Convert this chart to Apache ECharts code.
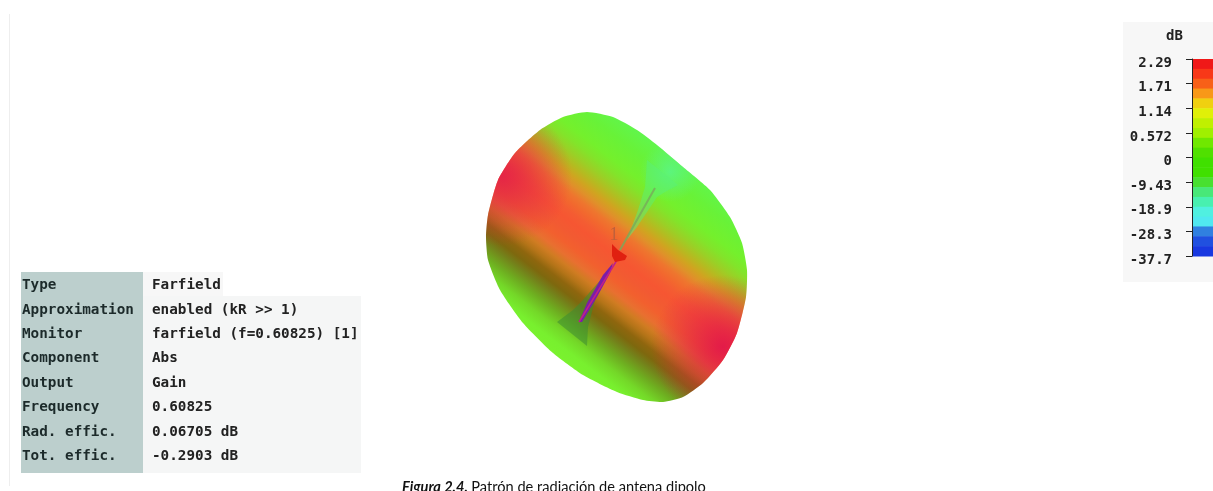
<!DOCTYPE html>
<html><head><meta charset="utf-8">
<style>html,body{margin:0;padding:0;background:#fff;overflow:hidden}#c{width:1213px;height:491px}</style>
<script src="https://cdn.jsdelivr.net/npm/echarts@6/dist/echarts.min.js"></script>
</head><body><div id="c"></div>
<script>
// ---- data ----
const surfaceOutline=[[587,112],[613,117],[637,130],[657,145],[683,167],[710,190],[730,217],[742,243],[747,270],[746,297],[737,333],[723,360],[703,383],[683,397],[663,402],[643,400],[617,392],[583,375],[553,353],[523,323],[500,290],[488,260],[486,237],[488,215],[498,180],[515,153],[540,130],[563,117]];
const funnelTop=[[647,160],[678,185],[665,192],[657,197],[637,227],[627,240],[638,210],[645,187]];
const funnelBottom=[[557,322],[587,346],[588,327],[595,300],[603,277],[583,300],[573,310]];
const dipoleArm=[[613,263],[603,275],[587,303],[579,322],[582,322],[597,297],[610,273]];
const dipoleLine=[[579,322],[617,260]];
const upperWire=[[620,250],[655,188]];
const excitation=[[612,244],[618,250],[627,256],[625,260],[615,262],[612,256]];
const bandOffsets=[0,0.12,0.2,0.24,0.28,0.32,0.35,0.38,0.41,0.44,0.47,0.5,0.54,0.58,0.62,0.65,0.68,0.71,0.74,0.77,0.82,0.87,0.92,1];
const scaleLabels=['2.29','1.71','1.14','0.572','0','-9.43','-18.9','-28.3','-37.7'];
const tableKeys=['Type','Approximation','Monitor','Component','Output','Frequency','Rad. effic.','Tot. effic.'];
const tableValues=['Farfield','enabled (kR >> 1)','farfield (f=0.60825) [1]','Abs','Gain','0.60825','0.06705 dB','-0.2903 dB'];
const caption='Patrón de radiación de antena dipolo';
// ---- styles ----
const bandColors=['#5cf858','#68f238','#74f02c','#82e42a','#9ad026','#b8b820','#d0a420','#e0902a','#ee762e','#f2682e','#f45c32','#f65632','#f25a32','#f2602e','#e87030','#d07c22','#b47418','#8f660e','#7e680e','#74801a','#6eae20','#74d828','#78f02e','#7cf42e'];
const scaleColors=['#f01818','#f83818','#f86018','#f89818','#f0d010','#e0f008','#c0f000','#a0f000','#70e800','#50e000','#40e000','#40e000','#48e030','#48e878','#48f0b0','#50f0e0','#50e8f0','#3080e0','#2050e0','#1838e0'];
const mono='"DejaVu Sans Mono",monospace';
const G=echarts.graphic;
const poly=(api,pts,style,smooth)=>({type:'polygon',shape:{points:pts.map(p=>api.coord(p)),smooth:smooth||0},style});
const chart=echarts.init(document.getElementById('c'),null,{renderer:'canvas'});
chart.setOption({
 animation:false,backgroundColor:'#fff',
 grid:[{left:0,top:0,width:1213,height:491,show:false},{left:1192,top:59,width:21,height:197,show:false}],
 xAxis:[{gridIndex:0,type:'value',min:0,max:1213,show:false},{gridIndex:1,type:'value',min:0,max:1,show:false}],
 yAxis:[{gridIndex:0,type:'value',min:0,max:491,inverse:true,show:false},
  {gridIndex:1,type:'value',min:0,max:8,interval:1,inverse:true,z:5,
   axisLine:{show:true,lineStyle:{color:'#222'}},axisTick:{show:true,length:6,lineStyle:{color:'#222'}},splitLine:{show:false},
   axisLabel:{margin:20,fontFamily:mono,fontWeight:'bold',fontSize:14,color:'#222',lineHeight:8,verticalAlign:'top',showMinLabel:true,showMaxLabel:true,formatter:(v)=>scaleLabels[v]}}],
 series:[
 {type:'custom',xAxisIndex:0,yAxisIndex:0,clip:false,data:[[0,0]],silent:true,z:1,
  renderItem(p,api){
   const a=api.coord([693,158]),b=api.coord([541,356]);
   const rect=(x,y,w,h,c)=>{const q=api.coord([x,y]);return{type:'rect',shape:{x:q[0],y:q[1],width:w,height:h},style:{fill:c}}};
   const kids=[rect(9,14,1,472,'#eeeeee'),rect(1123,22,90,260,'#f7f7f7'),rect(21,272,122,201,'#bccfcd'),rect(143,296,218,177,'#f5f6f6'),rect(143,272,80,24,'#f7f7f7')];
   const stops=bandOffsets.map((o,i)=>({offset:o,color:bandColors[i]}));
   kids.push(poly(api,surfaceOutline,{fill:new G.LinearGradient(a[0],a[1],b[0],b[1],stops,true)},0.2));
   const spot=(x,y,r,c)=>{const q=api.coord([x,y]);return new G.RadialGradient(q[0],q[1],r,[{offset:0,color:c},{offset:1,color:c.replace(/[\d.]+\)$/,'0)')}],true)};
   kids.push(poly(api,surfaceOutline,{fill:spot(502,176,70,'rgba(225,25,75,0.8)')},0.2));
   kids.push(poly(api,surfaceOutline,{fill:spot(723,347,72,'rgba(225,20,75,0.9)')},0.2));
   kids.push(poly(api,surfaceOutline,{fill:spot(670,172,30,'rgba(90,245,140,0.8)')},0.2));
   kids.push(poly(api,funnelTop,{fill:'rgba(90,240,120,0.5)'}));
   kids.push(poly(api,funnelBottom,{fill:'rgba(60,140,50,0.55)'}));
   kids.push(poly(api,dipoleArm,{fill:'#7a1ea8'}));
   const seg=(l,c,w)=>{const s=api.coord(l[0]),e=api.coord(l[1]);return{type:'line',shape:{x1:s[0],y1:s[1],x2:e[0],y2:e[1]},style:{stroke:c,lineWidth:w}}};
   kids.push(seg(dipoleLine,'#c0208a',1.5));
   kids.push(seg(upperWire,'rgba(120,170,90,0.8)',2));
   kids.push(poly(api,excitation,{fill:'#e02010'}));
   const txt=(x,y,t,st)=>{const q=api.coord([x,y]);return{type:'text',x:q[0],y:q[1],style:Object.assign({text:t,verticalAlign:'middle'},st)}};
   kids.push(txt(614,235,'1',{fill:'#c0603a',font:'18px "Liberation Serif",serif',align:'center'}));
   tableKeys.forEach((k,i)=>{
    const y=285.5+i*24.4;
    kids.push(txt(22,y,k,{fill:'#1c2a2a',font:'bold 14.3px '+mono}));
    kids.push(txt(152,y,tableValues[i],{fill:'#222',font:'bold 14.3px '+mono}));
   });
   kids.push(txt(1166,36.5,'dB',{fill:'#222',font:'bold 14px '+mono,align:'left'}));
   kids.push({type:'text',x:api.coord([402,0])[0],y:api.coord([0,487])[1],style:{
     rich:{b:{font:'italic bold 14.6px Lato,sans-serif',fill:'#111'},n:{font:'14.6px Lato,sans-serif',fill:'#111'}},
     text:'{b|Figura 2.4.} {n|'+caption+'}',verticalAlign:'middle'}});
   return {type:'group',children:kids};
  }},
 {type:'custom',xAxisIndex:1,yAxisIndex:1,clip:false,silent:true,z:3,
  data:scaleColors.map((c,i)=>[i]),
  renderItem(p,api){
   const i=api.value(0),n=scaleColors.length;
   const a=api.coord([0,i*8/n]),b=api.coord([1,(i+1)*8/n]);
   return{type:'rect',shape:{x:a[0],y:a[1],width:b[0]-a[0],height:b[1]-a[1]+0.5},style:{fill:scaleColors[i]}};
  }}
 ]});
</script></body></html>
